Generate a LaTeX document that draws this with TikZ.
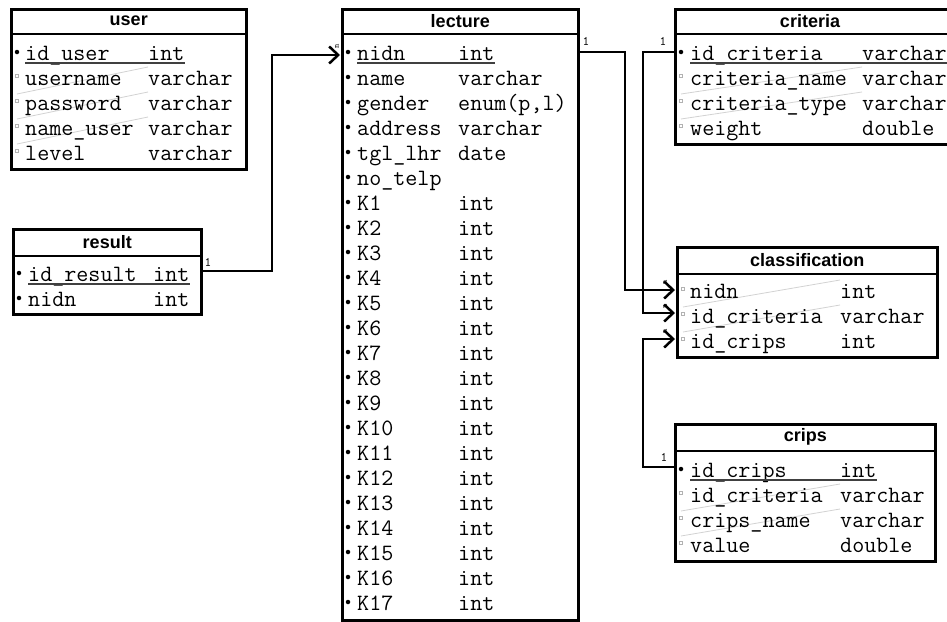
\documentclass[tikz,border=0pt]{standalone}
\usepackage{fontspec}
\newfontfamily\titlefont{Liberation Sans}
\usetikzlibrary{arrows.meta}

\begin{document}
\begin{tikzpicture}[x=1pt,y=-1pt,
    tbl/.style={draw,line width=2.5pt,anchor=north west,inner sep=0pt},
    ttl/.style={font=\titlefont\bfseries\fontsize{18}{18}\selectfont,inner sep=0pt},
    fld/.style={anchor=base west,inner sep=0pt,font=\ttfamily\fontsize{23.4}{25}\selectfont},
    pkey/.style={fill,circle,inner sep=0pt,minimum size=4.5pt},
    nkey/.style={draw=gray!60,inner sep=0pt,minimum size=3.5pt,line width=.6pt},
    card/.style={inner sep=0pt,font=\ttfamily\fontsize{13}{13}\selectfont},
    many/.style={inner sep=0pt,rotate=90,font=\ttfamily\fontsize{8}{8}\selectfont},
    uline/.style={line width=1.3pt,black!75},
    trace/.style={gray!35,line width=.8pt},
    rel/.style={line width=2.5pt,-{Straight Barb[length=9pt,width=17pt]}}]

  \useasboundingbox (0,0) rectangle (947,621);
  \clip (0,0) rectangle (947,621);

  % user
  \node[tbl,minimum width=235pt,minimum height=160pt] (user) at (10,8) {};
  \draw[line width=2.5pt] ([yshift=-26pt]user.north west) -- ([yshift=-26pt]user.north east);
  \node[ttl] (user-t) at ([yshift=-13pt]user.north) {user};
  \draw[trace] (17,94) -- (148,67) (17,119) -- (148,92) (17,144) -- (148,117);
  \node[pkey] (u1k) at (17,52) {}; \node[fld] (u1) at (25,60) {id\_user}; \node[fld] (u1t) at (148,60) {int};
  \draw[uline] (25,63) -- (185,63);
  \node[nkey] (u2k) at (17,76) {}; \node[fld] (u2) at (25,85) {username}; \node[fld] (u2t) at (148,85) {varchar};
  \node[nkey] (u3k) at (17,101) {}; \node[fld] (u3) at (25,110) {password}; \node[fld] (u3t) at (148,110) {varchar};
  \node[nkey] (u4k) at (17,126) {}; \node[fld] (u4) at (25,135) {name\_user}; \node[fld] (u4t) at (148,135) {varchar};
  \node[nkey] (u5k) at (17,151) {}; \node[fld] (u5) at (25,160) {level}; \node[fld] (u5t) at (148,160) {varchar};

  % result
  \node[tbl,minimum width=188pt,minimum height=85pt] (result) at (12,228) {};
  \draw[line width=2.5pt] ([yshift=-28pt]result.north west) -- ([yshift=-28pt]result.north east);
  \node[ttl] (result-t) at ([yshift=-14pt]result.north) {result};
  \node[pkey] (r1k) at (19,273) {}; \node[fld] (r1) at (28,281) {id\_result}; \node[fld] (r1t) at (153,281) {int};
  \draw[uline] (28,284) -- (190,284);
  \node[pkey] (r2k) at (19,298) {}; \node[fld] (r2) at (28,306) {nidn}; \node[fld] (r2t) at (153,306) {int};

  % lecture
  \node[tbl,minimum width=236pt,minimum height=611pt] (lecture) at (341,8) {};
  \draw[line width=2.5pt] ([yshift=-26pt]lecture.north west) -- ([yshift=-26pt]lecture.north east);
  \node[ttl] (lecture-t) at ([yshift=-13pt]lecture.north) {lecture};
  \node[pkey] (l1k) at (348,52) {}; \node[fld] (l1) at (357,60) {nidn}; \node[fld] (l1t) at (458,60) {int};
  \draw[uline] (357,63) -- (495,63);
  \node[pkey] (l2k) at (348,77) {}; \node[fld] (l2) at (357,85) {name}; \node[fld] (l2t) at (458,85) {varchar};
  \node[pkey] (l3k) at (348,102) {}; \node[fld] (l3) at (357,110) {gender}; \node[fld] (l3t) at (458,110) {enum(p,l)};
  \node[pkey] (l4k) at (348,127) {}; \node[fld] (l4) at (357,135) {address}; \node[fld] (l4t) at (458,135) {varchar};
  \node[pkey] (l5k) at (348,152) {}; \node[fld] (l5) at (357,160) {tgl\_lhr}; \node[fld] (l5t) at (458,160) {date};
  \node[pkey] (l6k) at (348,177) {}; \node[fld] (l6) at (357,185) {no\_telp};
  \node[pkey] (k1k) at (348,202) {}; \node[fld] (k1) at (357,210) {K1}; \node[fld] (k1t) at (458,210) {int};
  \node[pkey] (k2k) at (348,227) {}; \node[fld] (k2) at (357,235) {K2}; \node[fld] (k2t) at (458,235) {int};
  \node[pkey] (k3k) at (348,252) {}; \node[fld] (k3) at (357,260) {K3}; \node[fld] (k3t) at (458,260) {int};
  \node[pkey] (k4k) at (348,277) {}; \node[fld] (k4) at (357,285) {K4}; \node[fld] (k4t) at (458,285) {int};
  \node[pkey] (k5k) at (348,302) {}; \node[fld] (k5) at (357,310) {K5}; \node[fld] (k5t) at (458,310) {int};
  \node[pkey] (k6k) at (348,327) {}; \node[fld] (k6) at (357,335) {K6}; \node[fld] (k6t) at (458,335) {int};
  \node[pkey] (k7k) at (348,352) {}; \node[fld] (k7) at (357,360) {K7}; \node[fld] (k7t) at (458,360) {int};
  \node[pkey] (k8k) at (348,377) {}; \node[fld] (k8) at (357,385) {K8}; \node[fld] (k8t) at (458,385) {int};
  \node[pkey] (k9k) at (348,402) {}; \node[fld] (k9) at (357,410) {K9}; \node[fld] (k9t) at (458,410) {int};
  \node[pkey] (k10k) at (348,427) {}; \node[fld] (k10) at (357,435) {K10}; \node[fld] (k10t) at (458,435) {int};
  \node[pkey] (k11k) at (348,452) {}; \node[fld] (k11) at (357,460) {K11}; \node[fld] (k11t) at (458,460) {int};
  \node[pkey] (k12k) at (348,477) {}; \node[fld] (k12) at (357,485) {K12}; \node[fld] (k12t) at (458,485) {int};
  \node[pkey] (k13k) at (348,502) {}; \node[fld] (k13) at (357,510) {K13}; \node[fld] (k13t) at (458,510) {int};
  \node[pkey] (k14k) at (348,527) {}; \node[fld] (k14) at (357,535) {K14}; \node[fld] (k14t) at (458,535) {int};
  \node[pkey] (k15k) at (348,552) {}; \node[fld] (k15) at (357,560) {K15}; \node[fld] (k15t) at (458,560) {int};
  \node[pkey] (k16k) at (348,577) {}; \node[fld] (k16) at (357,585) {K16}; \node[fld] (k16t) at (458,585) {int};
  \node[pkey] (k17k) at (348,602) {}; \node[fld] (k17) at (357,610) {K17}; \node[fld] (k17t) at (458,610) {int};

  % criteria
  \node[tbl,minimum width=290pt,minimum height=135pt] (criteria) at (674,8) {};
  \draw[line width=2.5pt] ([yshift=-26pt]criteria.north west) -- ([yshift=-26pt]criteria.north east);
  \node[ttl] (criteria-t) at (810,21) {criteria};
  \draw[trace] (681,94) -- (862,67) (681,119) -- (862,92);
  \node[pkey] (c1k) at (681,52) {}; \node[fld] (c1) at (690,60) {id\_criteria}; \node[fld] (c1t) at (862,60) {varchar};
  \draw[uline] (690,63) -- (950,63);
  \node[nkey] (c2k) at (681,76) {}; \node[fld] (c2) at (690,85) {criteria\_name}; \node[fld] (c2t) at (862,85) {varchar};
  \node[nkey] (c3k) at (681,101) {}; \node[fld] (c3) at (690,110) {criteria\_type}; \node[fld] (c3t) at (862,110) {varchar};
  \node[nkey] (c4k) at (681,126) {}; \node[fld] (c4) at (690,135) {weight}; \node[fld] (c4t) at (862,135) {double};

  % classification
  \node[tbl,minimum width=260pt,minimum height=110pt] (class) at (676,246) {};
  \draw[line width=2.5pt] ([yshift=-28pt]class.north west) -- ([yshift=-28pt]class.north east);
  \node[ttl] (class-t) at ([yshift=-14pt]class.north) {classification};
  \draw[trace] (683,307) -- (840,280) (683,332) -- (840,305);
  \node[nkey] (s1k) at (683,289) {}; \node[fld] (s1) at (690,298) {nidn}; \node[fld] (s1t) at (840,298) {int};
  \node[nkey] (s2k) at (683,314) {}; \node[fld] (s2) at (690,323) {id\_criteria}; \node[fld] (s2t) at (840,323) {varchar};
  \node[nkey] (s3k) at (683,339) {}; \node[fld] (s3) at (690,348) {id\_crips}; \node[fld] (s3t) at (840,348) {int};

  % crips
  \node[tbl,minimum width=260pt,minimum height=137pt] (crips) at (674,423) {};
  \draw[line width=2.5pt] ([yshift=-28pt]crips.north west) -- ([yshift=-28pt]crips.north east);
  \node[ttl] (crips-t) at ([yshift=-14pt]crips.north) {crips};
  \draw[trace] (681,511) -- (840,484) (681,536) -- (840,509);
  \node[pkey] (p1k) at (681,469) {}; \node[fld] (p1) at (690,477) {id\_crips}; \node[fld] (p1t) at (840,477) {int};
  \draw[uline] (690,480) -- (877,480);
  \node[nkey] (p2k) at (681,493) {}; \node[fld] (p2) at (690,502) {id\_criteria}; \node[fld] (p2t) at (840,502) {varchar};
  \node[nkey] (p3k) at (681,518) {}; \node[fld] (p3) at (690,527) {crips\_name}; \node[fld] (p3t) at (840,527) {varchar};
  \node[nkey] (p4k) at (681,543) {}; \node[fld] (p4) at (690,552) {value}; \node[fld] (p4t) at (840,552) {double};

  % relations
  \coordinate (res-out) at (200,271);
  \coordinate (lec-in) at (340,55);
  \coordinate (lec-out) at (577,52);
  \coordinate (crit-out) at (674,52);
  \coordinate (crips-out) at (674,467);
  \coordinate (cls-nidn) at (675,290);
  \coordinate (cls-crit) at (675,313);
  \coordinate (cls-crips) at (675,339);

  \draw[rel] (res-out) -- ++(72,0) |- (lec-in);
  \draw[rel] (lec-out) -- ++(48,0) |- (cls-nidn);
  \draw[rel] (crit-out) -- ++(-31,0) |- (cls-crit);
  \draw[rel] (crips-out) -- ++(-31,0) |- (cls-crips);

  \node[card] (res-1) at (208,262) {1};
  \node[card] (lec-1) at (586,41) {1};
  \node[card] (crit-1) at (663,41) {1};
  \node[card] (crips-1) at (664,457) {1};
  \node[many] (lec-n) at (337,46) {n};
  \node[many] (cls-n1) at (665,282) {n};
  \node[many] (cls-n2) at (665,306) {n};
  \node[many] (cls-n3) at (665,331) {n};
\end{tikzpicture}
\end{document}
